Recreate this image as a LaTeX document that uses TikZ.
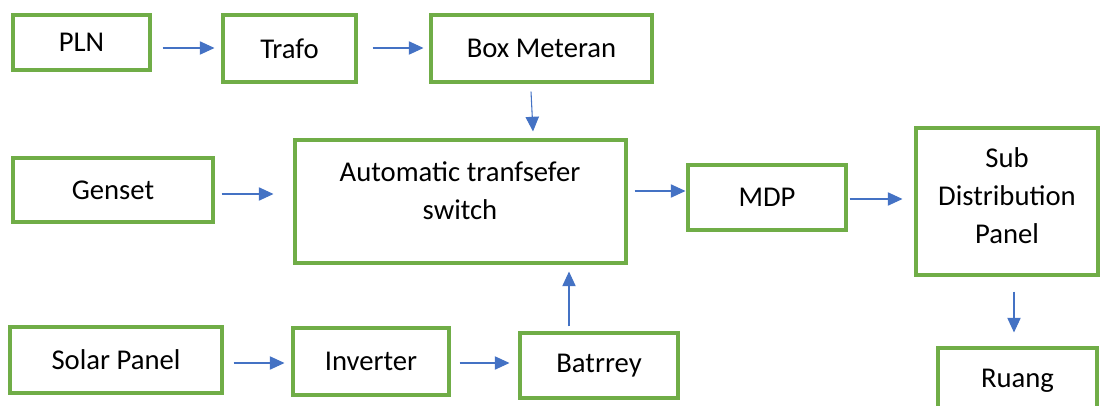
\documentclass[tikz,border=0pt]{standalone}
\usepackage{fontspec}
\setmainfont{Carlito}
\usepackage{tikz}
\usetikzlibrary{calc, arrows.meta, positioning}
\definecolor{boxGreen}{HTML}{70AD47}
\definecolor{arrBlue}{HTML}{4472C4}

\begin{document}
\begin{tikzpicture}[x=0.75pt, y=-0.75pt,
    box/.style={draw=boxGreen, line width=2.3pt, inner sep=0pt, font=\fontsize{21.5}{28.5}\selectfont, align=center},
    arr/.style={draw=arrBlue, line width=0.8pt, -{Triangle[length=11pt, width=10pt]}}]
    \useasboundingbox (0,0) rectangle (1106,406);

    % top row
    \node[box, minimum width=102.75pt, minimum height=41.25pt] (pln) at (81.5,42.5) {PLN};
    \node[box, minimum width=99.75pt, minimum height=50.25pt] (trafo) at (289.5,48.5) {Trafo};
    \node[box, minimum width=165.75pt, minimum height=50.25pt] (meter) at (541.5,48.5) {Box Meteran};

    % middle row
    \node[box, minimum width=150pt, minimum height=48pt] (genset) at (113,190) {Genset};
    \node[box, minimum width=248.25pt, minimum height=92.25pt] (ats) at (460.5,201.5) {};
    \node[font=\fontsize{21.5}{28.5}\selectfont, align=center] (atstext) at (460,191) {Automatic tranfsefer\\switch};
    \node[box, minimum width=118.5pt, minimum height=48.75pt] (mdp) at (767,197.5) {MDP};
    \node[box, minimum width=136.5pt, minimum height=110.25pt] (sdp) at (1007,201.5) {};
    \node[font=\fontsize{21.5}{28.5}\selectfont, align=center] (sdptext) at (1007,196) {Sub\\Distribution\\Panel};

    % bottom row
    \node[box, minimum width=159pt, minimum height=49.5pt] (solar) at (116,360) {Solar Panel};
    \node[box, minimum width=117pt, minimum height=50.25pt] (inverter) at (371,361.5) {Inverter};
    \node[box, minimum width=118.5pt, minimum height=48.75pt] (battery) at (599,365.5) {Batrrey};
    \node[box, minimum width=119.25pt, minimum height=48.75pt] (ruang) at (1017.5,380.5) {Ruang};

    \draw[arr] ($(pln.east)+(11,5.5)$) -- ($(trafo.west)+(-7,-0.5)$);
    \draw[arr] ($(trafo.east)+(15,-0.5)$) -- ($(meter.west)+(-6,-0.5)$);
    \draw[arr] ($(meter.south)+(-10.5,8)$) -- ($(ats.north)+(72.5,-7)$);
    \draw[arr] ($(genset.east)+(7,4)$) -- ($(ats.west)+(-20,-7.5)$);
    \draw[arr] ($(ats.east)+(7,-10.5)$) -- ($(mdp.west)+(-1,-6.5)$);
    \draw[arr] ($(mdp.east)+(2,1.5)$) -- ($(sdp.west)+(-12,-2.5)$);
    \draw[arr] ($(sdp.south)+(7,15)$) -- ($(ruang.north)+(-3.5,-14)$);
    \draw[arr] ($(solar.east)+(10,3)$) -- ($(inverter.west)+(-7,1.5)$);
    \draw[arr] ($(inverter.east)+(9,1.5)$) -- ($(battery.west)+(-9,-2.5)$);
    \draw[arr] ($(battery.north)+(-30,-5)$) -- ($(ats.south)+(108.5,7)$);
\end{tikzpicture}
\end{document}
